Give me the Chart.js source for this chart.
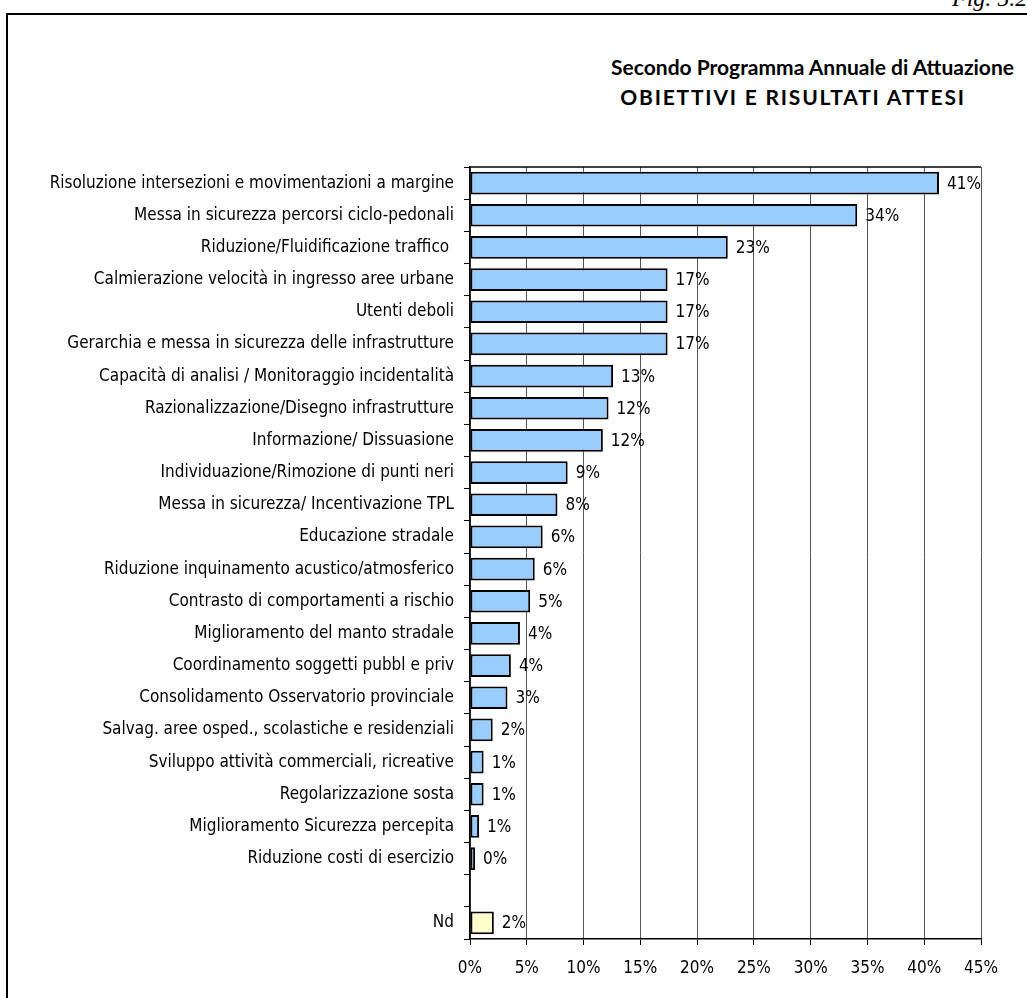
<!DOCTYPE html>
<html>
<head>
<meta charset="utf-8">
<script src="https://cdn.jsdelivr.net/npm/chart.js@4.4.1/dist/chart.umd.min.js"></script>
<style>
  html, body { margin: 0; padding: 0; background: #fff; }
  body { width: 1027px; height: 998px; position: relative; overflow: hidden; }
  #cornice { position: absolute; left: 6px; top: 13px; width: 1040px; height: 1000px;
             border-left: 2px solid #000; border-top: 2px solid #000; }
  #fig { position: absolute; left: 952px; top: -15px; line-height: 24px;
         font: italic 24px "Liberation Serif", serif; white-space: nowrap; }
  .titolo { position: absolute; font: bold 21px Lato, sans-serif; line-height: 21px;
            color: #000; white-space: nowrap; }
  #t1 { right: 13px; top: 56px; }
  #t2 { left: 793px; top: 86px; transform: translateX(-50%); letter-spacing: 1.8px; }
  canvas { position: absolute; left: 0; top: 0; }
</style>
</head>
<body>
<div id="cornice"></div>
<div id="fig">Fig. 5.2</div>
<div class="titolo" id="t1">Secondo Programma Annuale di Attuazione</div>
<div class="titolo" id="t2">OBIETTIVI E RISULTATI ATTESI</div>
<canvas id="grafico" width="1027" height="998"></canvas>
<script>
  // categorie (dall'alto in basso) e percentuali
  var categorie = [
    "Risoluzione intersezioni e movimentazioni a margine",
    "Messa in sicurezza percorsi ciclo-pedonali",
    "Riduzione/Fluidificazione traffico ",
    "Calmierazione velocità in ingresso aree urbane",
    "Utenti deboli",
    "Gerarchia e messa in sicurezza delle infrastrutture",
    "Capacità di analisi / Monitoraggio incidentalità",
    "Razionalizzazione/Disegno infrastrutture",
    "Informazione/ Dissuasione",
    "Individuazione/Rimozione di punti neri",
    "Messa in sicurezza/ Incentivazione TPL",
    "Educazione stradale",
    "Riduzione inquinamento acustico/atmosferico",
    "Contrasto di comportamenti a rischio",
    "Miglioramento del manto stradale",
    "Coordinamento soggetti pubbl e priv",
    "Consolidamento Osservatorio provinciale",
    "Salvag. aree osped., scolastiche e residenziali",
    "Sviluppo attività commerciali, ricreative",
    "Regolarizzazione sosta",
    "Miglioramento Sicurezza percepita",
    "Riduzione costi di esercizio",
    "",
    "Nd"
  ];
  var valori = [41.3, 34.1, 22.7, 17.4, 17.4, 17.4, 12.6, 12.2, 11.7, 8.6, 7.7, 6.4,
                5.7, 5.3, 4.4, 3.6, 3.3, 2.0, 1.2, 1.2, 0.8, 0.45, null, 2.1];
  var tickX = [0, 5, 10, 15, 20, 25, 30, 35, 40, 45];

  var FONT = "'Liberation Sans Narrow', 'DejaVu Sans Condensed', sans-serif";
  var AZZURRO = "#99CCFF";
  var GIALLO = "#FFFFCC";

  // etichette con la percentuale a destra di ogni barra
  var etichette = {
    id: "etichette",
    afterDatasetsDraw: function (chart) {
      var ctx = chart.ctx;
      var meta = chart.getDatasetMeta(0);
      ctx.save();
      ctx.font = "17px " + FONT;
      ctx.fillStyle = "#000";
      ctx.textBaseline = "middle";
      ctx.textAlign = "left";
      meta.data.forEach(function (bar, i) {
        var v = valori[i];
        if (v === null) return;
        ctx.fillText(Math.round(v) + "%", bar.x + 8, bar.y + 1);
      });
      ctx.restore();
    }
  };

  // bordo superiore dell'area del grafico
  var cornicePlot = {
    id: "cornicePlot",
    afterDraw: function (chart) {
      var a = chart.chartArea, ctx = chart.ctx;
      ctx.save();
      ctx.strokeStyle = "#000";
      ctx.lineWidth = 1.5;
      ctx.beginPath();
      ctx.moveTo(a.left, a.top);
      ctx.lineTo(a.right, a.top);
      ctx.stroke();
      ctx.restore();
    }
  };

  new Chart(document.getElementById("grafico"), {
    type: "bar",
    data: {
      labels: categorie,
      datasets: [{
        data: valori,
        backgroundColor: categorie.map(function (c) { return c === "Nd" ? GIALLO : AZZURRO; }),
        borderColor: "#000",
        borderWidth: 2,
        borderSkipped: false,
        barPercentage: 0.705,
        categoryPercentage: 1
      }]
    },
    options: {
      indexAxis: "y",
      responsive: false,
      animation: false,
      layout: { padding: { top: 167, right: 46, left: 0, bottom: 0 } },
      plugins: { legend: { display: false }, tooltip: { enabled: false } },
      scales: {
        x: {
          type: "linear",
          position: "bottom",
          min: 0, max: 45,
          afterBuildTicks: function (s) { s.ticks = tickX.map(function (v) { return { value: v }; }); },
          afterFit: function (s) { s.height = 59; },
          ticks: {
            color: "#000", padding: 13,
            font: { family: FONT, size: 17 },
            callback: function (v) { return v + "%"; }
          },
          grid: { color: "#555", lineWidth: 1, tickLength: 6, tickColor: "#000" },
          border: { color: "#000", width: 1.5 }
        },
        y: {
          type: "category",
          afterFit: function (s) { s.width = 470; },
          ticks: {
            color: "#000", padding: 10, autoSkip: false,
            font: { family: FONT, size: 17 }
          },
          grid: { drawOnChartArea: false, offset: true, tickLength: 6, color: "#000" },
          border: { color: "#000", width: 1.5 }
        }
      }
    },
    plugins: [etichette, cornicePlot]
  });
</script>
</body>
</html>
